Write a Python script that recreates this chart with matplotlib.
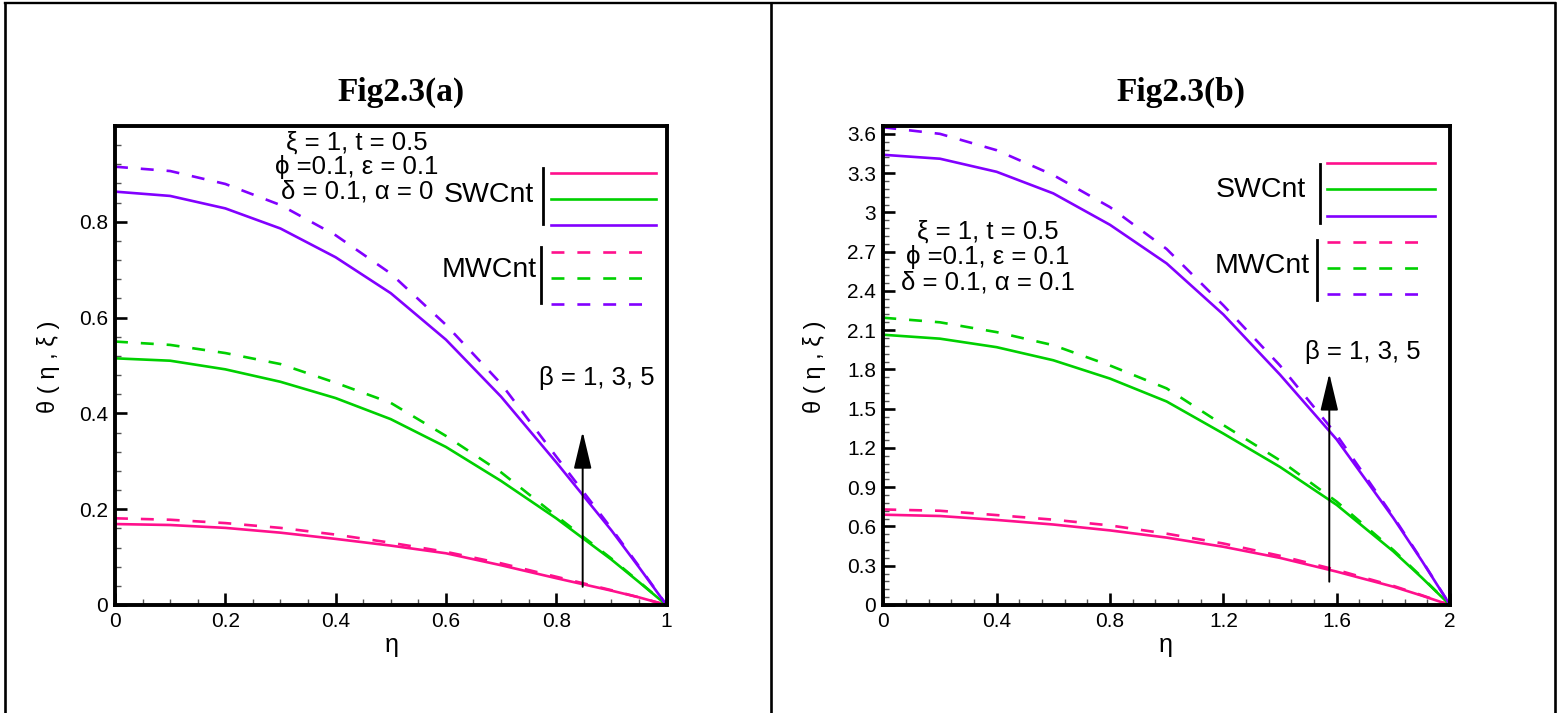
import numpy as np
import matplotlib.pyplot as plt
from matplotlib.lines import Line2D
from matplotlib.ticker import MultipleLocator, FixedLocator, FuncFormatter

plt.rcParams['font.family'] = ['Liberation Sans', 'DejaVu Sans']

# ---- Fig2.3(a): alpha = 0 ----
eta_a = [0, 0.1, 0.2, 0.3, 0.4, 0.5, 0.6, 0.7, 0.8, 0.9, 0.95, 1.0]
sw_a_b1 = [0.169, 0.167, 0.161, 0.151, 0.138, 0.124, 0.108, 0.083, 0.056, 0.030, 0.016, 0.0]
sw_a_b3 = [0.515, 0.510, 0.492, 0.466, 0.432, 0.388, 0.330, 0.259, 0.181, 0.095, 0.048, 0.0]
sw_a_b5 = [0.863, 0.854, 0.828, 0.786, 0.726, 0.651, 0.554, 0.435, 0.298, 0.156, 0.079, 0.0]
mw_a_b1 = [0.181, 0.178, 0.171, 0.161, 0.147, 0.130, 0.111, 0.087, 0.059, 0.031, 0.016, 0.0]
mw_a_b3 = [0.550, 0.543, 0.526, 0.503, 0.464, 0.422, 0.353, 0.277, 0.186, 0.097, 0.049, 0.0]
mw_a_b5 = [0.915, 0.906, 0.879, 0.835, 0.772, 0.692, 0.585, 0.462, 0.310, 0.160, 0.081, 0.0]

# ---- Fig2.3(b): alpha = 0.1 ----
eta_b = [0, 0.2, 0.4, 0.6, 0.8, 1.0, 1.2, 1.4, 1.6, 1.8, 1.9, 2.0]
sw_b_b1 = [0.69, 0.68, 0.65, 0.615, 0.57, 0.515, 0.445, 0.36, 0.255, 0.14, 0.072, 0.0]
sw_b_b3 = [2.065, 2.035, 1.97, 1.87, 1.73, 1.555, 1.31, 1.055, 0.765, 0.41, 0.21, 0.0]
sw_b_b5 = [3.44, 3.41, 3.31, 3.145, 2.905, 2.61, 2.22, 1.76, 1.265, 0.665, 0.34, 0.0]
mw_b_b1 = [0.73, 0.72, 0.687, 0.652, 0.608, 0.545, 0.47, 0.376, 0.268, 0.146, 0.075, 0.0]
mw_b_b3 = [2.195, 2.16, 2.085, 1.985, 1.83, 1.655, 1.375, 1.105, 0.79, 0.42, 0.215, 0.0]
mw_b_b5 = [3.65, 3.60, 3.475, 3.285, 3.04, 2.72, 2.29, 1.83, 1.30, 0.675, 0.345, 0.0]

colors = ['#ff108c', '#00d000', '#8200ff']
DASH = (4.9, 4.9)
LW = 1.9

W, H = 1560, 713


def fx(x):
    return x / W


def fy(y):
    return 1 - y / H


def fig_line(x0, x1, y0, y1, **kw):
    fig.add_artist(Line2D([fx(x0), fx(x1)], [fy(y0), fy(y1)],
                          transform=fig.transFigure, **kw))


fig = plt.figure(figsize=(15.6, 7.13), dpi=100)

# table frame around the two cells
fig_line(5, 1555, 3, 3, color='black', lw=1.7)
for xv in (5, 771, 1555):
    fig_line(xv, xv, 3, 713, color='black', lw=1.9)

ax_a = fig.add_axes([fx(115), fy(605), 551.5 / W, 479 / H])
ax_b = fig.add_axes([fx(883.3), fy(605), 566.7 / W, 479 / H])

for c, s, m in zip(colors, [sw_a_b1, sw_a_b3, sw_a_b5], [mw_a_b1, mw_a_b3, mw_a_b5]):
    ax_a.plot(eta_a, m, color=c, lw=LW, dashes=DASH)
    ax_a.plot(eta_a, s, color=c, lw=LW)

for c, s, m in zip(colors, [sw_b_b1, sw_b_b3, sw_b_b5], [mw_b_b1, mw_b_b3, mw_b_b5]):
    ax_b.plot(eta_b, m, color=c, lw=LW, dashes=DASH)
    ax_b.plot(eta_b, s, color=c, lw=LW)

fmt = FuncFormatter(lambda v, p: '{:g}'.format(round(v, 3)))


def style(ax, xmax, ymax, xmaj, xmin, yticks, ymin):
    ax.set_xlim(0, xmax)
    ax.set_ylim(0, ymax)
    ax.xaxis.set_major_locator(MultipleLocator(xmaj))
    ax.xaxis.set_minor_locator(MultipleLocator(xmin))
    ax.yaxis.set_major_locator(FixedLocator(yticks))
    ax.yaxis.set_minor_locator(MultipleLocator(ymin))
    ax.xaxis.set_major_formatter(fmt)
    ax.yaxis.set_major_formatter(fmt)
    ax.tick_params(which='both', direction='in', labelsize=15, pad=5)
    ax.tick_params(which='major', length=8.5, width=1.9)
    ax.tick_params(which='minor', length=4.5, width=1.0, color='#555555')
    for sp in ax.spines.values():
        sp.set_linewidth(2.8)


style(ax_a, 1.0, 1.0, 0.2, 0.05, [0, 0.2, 0.4, 0.6, 0.8], 0.04)
style(ax_b, 2.0, 3.66, 0.4, 0.08, list(np.arange(0, 3.61, 0.3)), 0.06)

# titles
fig.text(fx(401), fy(92), 'Fig2.3(a)', ha='center', va='center', fontsize=24,
         fontweight='bold', family='Liberation Serif')
fig.text(fx(1181), fy(92), 'Fig2.3(b)', ha='center', va='center', fontsize=24,
         fontweight='bold', family='Liberation Serif')

# axis labels
for xv in (48, 815):
    fig.text(fx(xv), fy(367), 'θ ( η , ξ )', rotation=90, ha='center', va='center', fontsize=17)
for xv in (392, 1166):
    fig.text(fx(xv), fy(645), 'η', ha='center', va='center', fontsize=18)

# parameter notes
params_a = ['ξ = 1, t = 0.5', 'ϕ =0.1, ε = 0.1', 'δ = 0.1, α = 0']
params_b = ['ξ = 1, t = 0.5', 'ϕ =0.1, ε = 0.1', 'δ = 0.1, α = 0.1']
for txt, yv in zip(params_a, [143, 167, 192]):
    fig.text(fx(357), fy(yv), txt, ha='center', va='center', fontsize=18.5)
for txt, yv in zip(params_b, [232, 257, 282]):
    fig.text(fx(988), fy(yv), txt, ha='center', va='center', fontsize=18.5)

# custom legends
legends = [
    # label x, label y, bar x, bar top, bar bottom, line x0, line x1, line ys, dashed
    (489, 195, 543.3, 168, 224, 550.7, 656, [173.3, 199.3, 225.3], 'SWCnt', False),
    (489, 270, 541, 246.7, 302.7, 550.7, 642.7, [251.7, 277.7, 304], 'MWCnt', True),
    (1261, 190, 1320.4, 164, 223, 1327, 1435, [162.7, 189.3, 216], 'SWCnt', False),
    (1262, 266, 1317.3, 240, 300, 1327, 1421, [242.3, 267.7, 294], 'MWCnt', True),
]
for lx, ly, bx, bt, bb, x0, x1, ys, name, dashed in legends:
    fig.text(fx(lx), fy(ly), name, ha='center', va='center', fontsize=20.5)
    fig_line(bx, bx, bt, bb, color='black', lw=2.0)
    for c, yv in zip(colors, ys):
        if dashed:
            fig_line(x0, x1, yv, yv, color=c, lw=LW, dashes=DASH)
        else:
            fig_line(x0, x1, yv, yv, color=c, lw=LW)

# beta arrows
arrow_style = dict(arrowstyle='-|>,head_length=2.3,head_width=0.55', mutation_scale=10,
                   color='black', lw=1.4, shrinkA=0, shrinkB=0)
ax_a.annotate('', xy=(0.848, 0.362), xytext=(0.848, 0.038), arrowprops=arrow_style)
ax_a.text(0.873, 0.474, 'β = 1, 3, 5', ha='center', va='center', fontsize=18.5)
ax_b.annotate('', xy=(1.574, 1.769), xytext=(1.574, 0.178), arrowprops=arrow_style)
ax_b.text(1.693, 1.934, 'β = 1, 3, 5', ha='center', va='center', fontsize=18.5)

fig.savefig('out.png', dpi=100)
